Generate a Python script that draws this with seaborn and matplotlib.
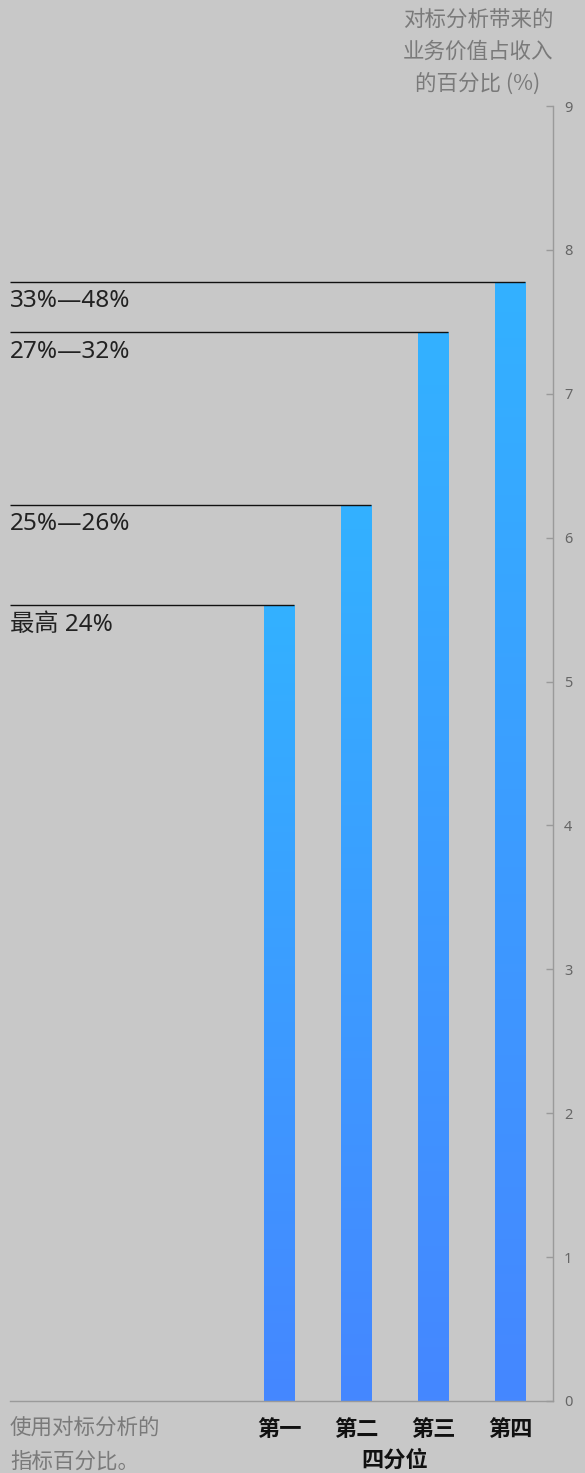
import matplotlib
matplotlib.use('Agg')
import matplotlib.pyplot as plt
import matplotlib.transforms as mtransforms
from matplotlib.colors import LinearSegmentedColormap
import numpy as np
import pandas as pd
import seaborn as sns

# data
quartiles = ['第一', '第二', '第三', '第四']
values = [5.53, 6.23, 7.43, 7.78]
range_labels = ['最高 24%', '25%—26%', '27%—32%', '33%—48%']
y_ticks = list(range(0, 10))
title_lines = ['对标分析带来的', '业务价值占收入', '的百分比 (%)']
note_lines = ['使用对标分析的', '指标百分比。']
x_title = '四分位'

BG = '#c8c8c8'
FONTS = ['Noto Sans CJK SC', 'DejaVu Sans']
LATIN = ['Noto Sans', 'Noto Sans CJK SC', 'DejaVu Sans']


def main():
    sns.set_theme(style='white', rc={'figure.facecolor': BG, 'axes.facecolor': BG})
    plt.rcParams['font.family'] = FONTS

    W, H = 585, 1473
    fig = plt.figure(figsize=(W / 100, H / 100), dpi=100)
    ax = fig.add_axes([10 / W, 72 / H, 543 / W, (1401 - 106) / H])

    df = pd.DataFrame({'quartile': quartiles, 'value': values})
    bw = 0.39
    sns.barplot(data=df, x='quartile', y='value', ax=ax, width=bw,
                color='#3aa0ff', saturation=1, linewidth=0)

    # vertical gradient inside each bar
    cmap = LinearSegmentedColormap.from_list('blu', ['#4587ff', '#33b1ff'])
    grad = np.linspace(0, 1, 256).reshape(-1, 1)
    for p in ax.patches:
        x0, w, h = p.get_x(), p.get_width(), p.get_height()
        im = ax.imshow(grad, cmap=cmap, extent=[x0, x0 + w, 0, h],
                       origin='lower', aspect='auto', zorder=2)
        im.set_clip_path(p)

    xmin, xmax = -3.494, 3.558
    ax.set_xlim(xmin, xmax)
    ax.set_ylim(0, 9)

    # range lines + labels
    blend = mtransforms.blended_transform_factory(ax.transAxes, ax.transData)
    for i, (v, lab) in enumerate(zip(values, range_labels)):
        ax.hlines(v, xmin, i + bw / 2, color='#111111', lw=1, zorder=3)
        ax.annotate(lab, xy=(0, v), xycoords=blend, xytext=(0, -5.5),
                    textcoords='offset points', ha='left', va='top',
                    fontsize=17.5, color='#222222', family=LATIN)

    # axes styling
    for s in ['left', 'top']:
        ax.spines[s].set_visible(False)
    for s in ['right', 'bottom']:
        ax.spines[s].set_color('#9a9a9a')
        ax.spines[s].set_linewidth(1)

    ax.yaxis.tick_right()
    ax.set_yticks(y_ticks)
    ax.tick_params(axis='y', direction='in', length=5, width=1, color='#9a9a9a',
                   labelcolor='#666666', labelsize=10.5, pad=8)
    for t in ax.get_yticklabels():
        t.set_family(LATIN)
    ax.set_xticks(range(len(quartiles)))
    ax.set_xticklabels(quartiles, fontsize=16, fontweight='bold', color='#111111')
    ax.tick_params(axis='x', length=0, pad=12)
    ax.set_xlabel('')
    ax.set_ylabel('')

    ax.annotate(x_title, xy=(1.5, 0), xycoords=('data', 'axes fraction'),
                xytext=(0, -42.5), textcoords='offset points', ha='center',
                va='center', fontsize=16, fontweight='bold', color='#111111')

    for k, line in enumerate(title_lines):
        fig.text(478 / W, 1 - (20 + 32 * k) / H, line, ha='center', va='center',
                 fontsize=15.5, color='#7a7a7a', style='italic')
    for k, line in enumerate(note_lines):
        fig.text(10 / W, 1 - (1428 + 34 * k) / H, line, ha='left', va='center',
                 fontsize=15.5, color='#7a7a7a', style='italic')

    fig.savefig('out.png', dpi=100, facecolor=BG)


if __name__ == '__main__':
    main()
